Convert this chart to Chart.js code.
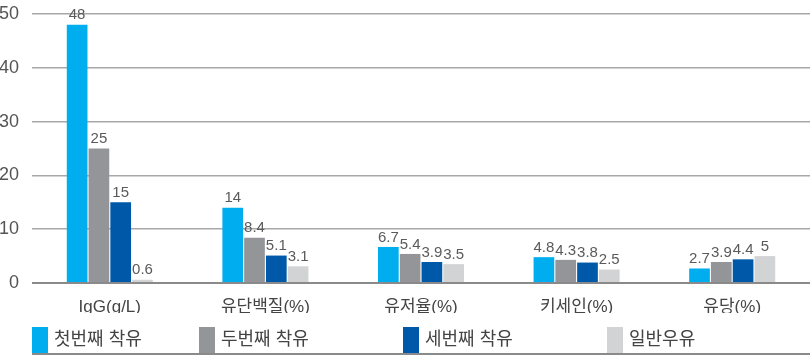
<!DOCTYPE html>
<html>
<head>
<meta charset="utf-8">
<script src="https://cdn.jsdelivr.net/npm/chart.js@4/dist/chart.umd.min.js"></script>
<style>
  html, body { margin: 0; padding: 0; background: #fff; }
  #wrap { position: relative; width: 810px; height: 356px; }
</style>
</head>
<body>
<div id="wrap"><canvas id="c" width="810" height="356"></canvas></div>
<script>
const categories = ['IgG(g/L)', '유단백질(%)', '유저율(%)', '키세인(%)', '유당(%)'];
const seriesNames = ['첫번째 착유', '두번째 착유', '세번째 착유', '일반우유'];
const firstMilking = [48, 14, 6.7, 4.8, 2.7];
const secondMilking = [25, 8.4, 5.4, 4.3, 3.9];
const thirdMilking = [15, 5.1, 3.9, 3.8, 4.4];
const regularMilk = [0.6, 3.1, 3.5, 2.5, 5];
const yTicks = [0, 10, 20, 30, 40, 50];

const colors = ['#00aeef', '#939598', '#0058a9', '#d1d3d4'];
const FONT = "'Liberation Sans', 'Noto Sans CJK KR', sans-serif";
const legendX = [32, 199, 403, 607];

const seriesData = [firstMilking, secondMilking, thirdMilking, regularMilk];

const valueLabels = {
  id: 'valueLabels',
  afterDatasetsDraw(chart) {
    const ctx = chart.ctx;
    ctx.save();
    ctx.font = "15px " + FONT;
    ctx.fillStyle = '#5a5a5a';
    ctx.textAlign = 'center';
    ctx.textBaseline = 'bottom';
    chart.data.datasets.forEach((ds, i) => {
      const meta = chart.getDatasetMeta(i);
      meta.data.forEach((bar, j) => {
        ctx.fillText(String(ds.data[j]), bar.x, bar.y - 2);
      });
    });
    ctx.restore();
  }
};

const customLegend = {
  id: 'customLegend',
  afterDraw(chart) {
    const ctx = chart.ctx;
    ctx.save();
    const top = 327, h = 26;
    chart.data.datasets.forEach((ds, i) => {
      const x = legendX[i];
      ctx.fillStyle = ds.backgroundColor;
      ctx.fillRect(x, top, 16, h);
      ctx.font = "18px " + FONT;
      ctx.fillStyle = '#444';
      ctx.textAlign = 'left';
      ctx.textBaseline = 'middle';
      ctx.fillText(ds.label, x + 22, 340);
    });
    ctx.strokeStyle = '#8a8a8a';
    ctx.lineWidth = 2;
    ctx.beginPath();
    ctx.moveTo(32, 354);
    ctx.lineTo(810, 354);
    ctx.stroke();
    ctx.restore();
  }
};

new Chart(document.getElementById('c'), {
  type: 'bar',
  data: {
    labels: categories,
    datasets: seriesData.map((d, i) => ({
      label: seriesNames[i],
      data: d,
      backgroundColor: colors[i],
      borderWidth: 0,
      barPercentage: 0.95,
      categoryPercentage: 0.56
    }))
  },
  options: {
    responsive: false,
    animation: false,
    devicePixelRatio: 1,
    layout: { padding: { top: 14, left: 0, right: 0, bottom: 43 } },
    plugins: { legend: { display: false }, tooltip: { enabled: false } },
    scales: {
      x: {
        grid: { display: false },
        border: { display: false },
        ticks: { color: '#444', font: { family: FONT, size: 17 }, padding: 6 },
        afterFit(scale) { scale.height = 30; }
      },
      y: {
        min: 0, max: 50,
        afterBuildTicks(scale) { scale.ticks = yTicks.map(v => ({ value: v })); },
        grid: {
          drawTicks: false,
          color: ctx => ctx.tick && ctx.tick.value === 0 ? '#8a8a8a' : '#a8a8a8',
          lineWidth: ctx => ctx.tick && ctx.tick.value === 0 ? 2 : 1.5
        },
        border: { display: false },
        ticks: { color: '#555', font: { family: FONT, size: 18, lineHeight: 0.5 }, padding: 13 },
        afterFit(scale) { scale.width = 32; scale.paddingTop = 0; scale.paddingBottom = 0; }
      }
    }
  },
  plugins: [valueLabels, customLegend]
});
</script>
</body>
</html>
